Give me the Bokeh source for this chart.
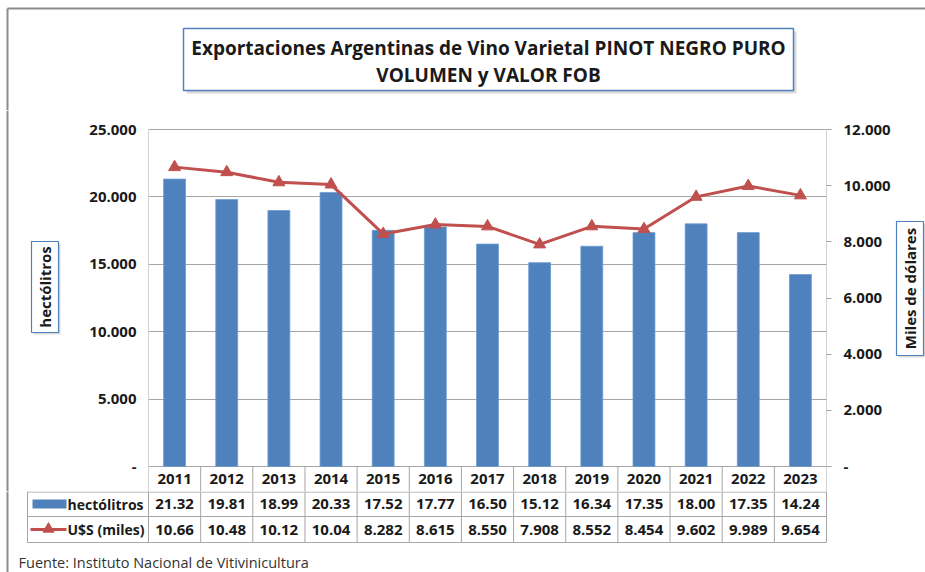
import math
from bokeh.plotting import figure
from bokeh.layouts import column, row
from bokeh.models import (Range1d, LinearAxis, SingleIntervalTicker,
                          CustomJSTickFormatter, ColumnDataSource)
from bokeh.core.properties import value
from bokeh.embed import file_html
from bokeh.resources import INLINE

# ---------------- data ----------------
years = ["2011", "2012", "2013", "2014", "2015", "2016", "2017",
         "2018", "2019", "2020", "2021", "2022", "2023"]
hectolitros = [21320, 19810, 18990, 20330, 17520, 17770, 16500,
               15120, 16340, 17350, 18000, 17350, 14240]
usd_miles = [10660, 10480, 10120, 10040, 8282, 8615, 8550,
             7908, 8552, 8454, 9602, 9989, 9654]
hl_max, usd_max = 25000, 12000
hl_step, usd_step = 5000, 2000
title_lines = ["Exportaciones Argentinas de Vino Varietal PINOT NEGRO PURO",
               "VOLUMEN y VALOR FOB"]
series_names = ["hectólitros", "U$S (miles)"]
left_axis_title = "hectólitros"
right_axis_title = "Miles de dólares"
source_note = "Fuente: Instituto Nacional de Vitivinicultura"

# ---------------- styles / layout ----------------
FONT = "Open Sans"
BLUE = "#4F81BD"
RED = "#C0504D"
GRID = "#A6A6A6"
TXT = "#1a1a1a"
FRAME = "#8c8c8c"
SHADOW = "#d9d9d9"

W, H = 925, 572
FL, FT, FR, FB = 148, 129, 826, 466     # plot area in page pixels
MTOP, YROW = 110, 491                   # middle row spans MTOP..YROW
LW, RX = 62, 894                        # left strip width, right strip start
NCAT = len(years)
CW = (FR - FL) / NCAT
MH = YROW - MTOP

xc = [i + 0.5 for i in range(NCAT)]


def excel_fmt(v):
    s = f"{v:,.0f}".replace(",", ".")
    return s[:5]


def blank(width, height, xr, yr):
    f = figure(width=width, height=height, output_backend="svg", toolbar_location=None,
               x_range=xr, y_range=yr, x_axis_location=None, y_axis_location=None,
               min_border=0)
    f.outline_line_color = None
    f.border_fill_color = "white"
    f.background_fill_color = "white"
    f.grid.visible = False
    return f


def txt(f, x, y, s, size="15px", style="bold", align="center", angle=0, color=TXT, **kw):
    f.text(x=[x], y=[y], text=[s], text_font=value(FONT), text_font_size=size,
           text_font_style=style, text_align=align, text_baseline="middle",
           angle=angle, text_color=color, **kw)


def span_range(vmax):
    # value range whose 0..vmax covers the plot area FB..FT while the frame spans MTOP..YROW
    k = vmax / (FB - FT)
    return Range1d(-(YROW - FB) * k, vmax + (FT - MTOP) * k)


# ---------------- top strip: title ----------------
T = blank(W, MTOP, Range1d(0, W), Range1d(MTOP, 0))
T.segment(x0=[7, 7], y0=[8, 8], x1=[W, 7], y1=[8, MTOP], line_color=FRAME, line_width=2)
T.quad(left=[186], right=[796], top=[31], bottom=[93], fill_color=SHADOW, line_alpha=0)
T.quad(left=[183], right=[793], top=[28], bottom=[90], fill_color="white",
       line_color=BLUE, line_width=1.5)
txt(T, 488, 47, title_lines[0], size="19px")
txt(T, 488, 74, title_lines[1], size="19px")

# ---------------- left strip: axis title ----------------
L = blank(LW, MH, Range1d(0, LW), Range1d(MH, 0))
L.segment(x0=[7], y0=[0], x1=[7], y1=[MH], line_color=FRAME, line_width=2)
L.quad(left=[33], right=[60], top=[243 - MTOP], bottom=[334 - MTOP], fill_color=SHADOW, line_alpha=0)
L.quad(left=[31], right=[58], top=[241 - MTOP], bottom=[332 - MTOP], fill_color="white",
       line_color=BLUE, line_width=1.2)
txt(L, 44.5, 286.5 - MTOP, left_axis_title, size="15px", angle=math.pi / 2)

# ---------------- right strip: axis title ----------------
RW = W - RX
R = blank(RW, MH, Range1d(0, RW), Range1d(MH, 0))
R.quad(left=[898 - RX], right=[925 - RX], top=[223 - MTOP], bottom=[357 - MTOP], fill_color=SHADOW, line_alpha=0)
R.quad(left=[896 - RX], right=[923 - RX], top=[221 - MTOP], bottom=[355 - MTOP], fill_color="white",
       line_color=BLUE, line_width=1.2)
txt(R, 909.5 - RX, 288 - MTOP, right_axis_title, size="15px", angle=math.pi / 2)

# ---------------- main chart (frame includes the year row) ----------------
src = ColumnDataSource(dict(x=xc, year=years, hl=hectolitros, usd=usd_miles))

M = figure(width=RX - LW, height=MH, output_backend="svg", toolbar_location=None,
           x_range=Range1d(0, NCAT), y_range=span_range(hl_max), x_axis_location=None,
           min_border_left=FL - LW, min_border_right=RX - FR,
           min_border_top=0, min_border_bottom=0)
M.outline_line_color = None
M.border_fill_color = "white"
M.background_fill_color = "white"
M.extra_y_ranges = {"usd": span_range(usd_max), "px": Range1d(MH, 0)}

fmt = CustomJSTickFormatter(code="return tick == 0 ? '-' : (tick/1000).toFixed(3);")

ya = M.yaxis[0]
ya.ticker = SingleIntervalTicker(interval=hl_step)
ya.formatter = fmt
ya.axis_line_color = None
ya.major_tick_line_color = None
ya.minor_tick_line_color = None
ya.major_tick_out = 0
ya.major_tick_in = 0
ya.major_label_standoff = 8
ya.major_label_text_font = FONT
ya.major_label_text_font_style = "bold"
ya.major_label_text_font_size = "15px"
ya.major_label_text_color = TXT

ra = LinearAxis(y_range_name="usd", ticker=SingleIntervalTicker(interval=usd_step), formatter=fmt)
ra.axis_line_color = None
ra.major_tick_line_color = GRID
ra.major_tick_out = 5
ra.major_tick_in = 0
ra.minor_tick_line_color = None
ra.major_label_standoff = 12
ra.major_label_text_font = FONT
ra.major_label_text_font_style = "bold"
ra.major_label_text_font_size = "15px"
ra.major_label_text_color = TXT
M.add_layout(ra, "right")

M.xgrid.grid_line_color = None
M.ygrid.grid_line_color = GRID
M.ygrid.ticker = SingleIntervalTicker(interval=hl_step)

# plot-area side lines
M.segment(x0=[0, NCAT], y0=[0, 0], x1=[0, NCAT], y1=[hl_max, hl_max], line_color=GRID, line_width=1)

M.vbar(x="x", top="hl", width=0.42, source=src, fill_color=BLUE, line_color="#6f9bd0", line_width=0.8)
M.line(x="x", y="usd", source=src, y_range_name="usd", line_color=RED, line_width=3)
M.scatter(x="x", y="usd", source=src, y_range_name="usd", marker="triangle",
          size=12, fill_color=RED, line_color=RED)

# year row of the data table (inside the frame, below zero)
bx = list(range(NCAT + 1))
M.segment(x0=bx, y0=[FB - MTOP] * len(bx), x1=bx, y1=[MH] * len(bx),
          y_range_name="px", line_color=GRID, line_width=1)
M.text(x="x", y=(FB + YROW) / 2 - MTOP, text="year", source=src, y_range_name="px",
       text_font=value(FONT), text_font_size="15px", text_font_style="bold",
       text_align="center", text_baseline="middle", text_color=TXT)

# ---------------- data table strip ----------------
TH = H - YROW
TB = blank(W, TH, Range1d(-FL / CW, (W - FL) / CW), Range1d(TH, 0))   # category units


def cx(px):
    return (px - FL) / CW


r1, r2, r3 = 0.5, 516 - YROW, 542 - YROW
TB.segment(x0=[cx(27)] * 3, y0=[r1, r2, r3], x1=[NCAT] * 3, y1=[r1, r2, r3],
           line_color=GRID, line_width=1)
vx = [cx(27)] + bx
TB.segment(x0=vx, y0=[0] * len(vx), x1=vx, y1=[r3] * len(vx), line_color=GRID, line_width=1)
TB.segment(x0=[cx(7)], y0=[0], x1=[cx(7)], y1=[TH], line_color=FRAME, line_width=2)

tsrc = ColumnDataSource(dict(x=xc, hl=[excel_fmt(v) for v in hectolitros],
                             usd=[excel_fmt(v) for v in usd_miles]))
for col, yy in (("hl", (r1 + r2) / 2), ("usd", (r2 + r3) / 2)):
    TB.text(x="x", y=yy, text=col, source=tsrc, text_font=value(FONT), text_font_size="15px",
            text_font_style="bold", text_align="center", text_baseline="middle", text_color=TXT)

# legend keys
TB.quad(left=[cx(32)], right=[cx(66)], top=[499 - YROW], bottom=[508 - YROW],
        fill_color=BLUE, line_alpha=0)
txt(TB, cx(67), (r1 + r2) / 2, series_names[0], size="14px", align="left")
TB.segment(x0=[cx(30)], y0=[529 - YROW], x1=[cx(66)], y1=[529 - YROW], line_color=RED, line_width=3)
TB.scatter(x=[cx(48)], y=[528.5 - YROW], marker="triangle", size=11, fill_color=RED, line_color=RED)
txt(TB, cx(67), (r2 + r3) / 2, series_names[1], size="14px", align="left")

txt(TB, cx(18), 562 - YROW, source_note, size="14.5px", style="normal", align="left", color="#333333")

layout = column(T, row(L, M, R), TB)
open("out.html", "w").write(file_html(layout, INLINE))
